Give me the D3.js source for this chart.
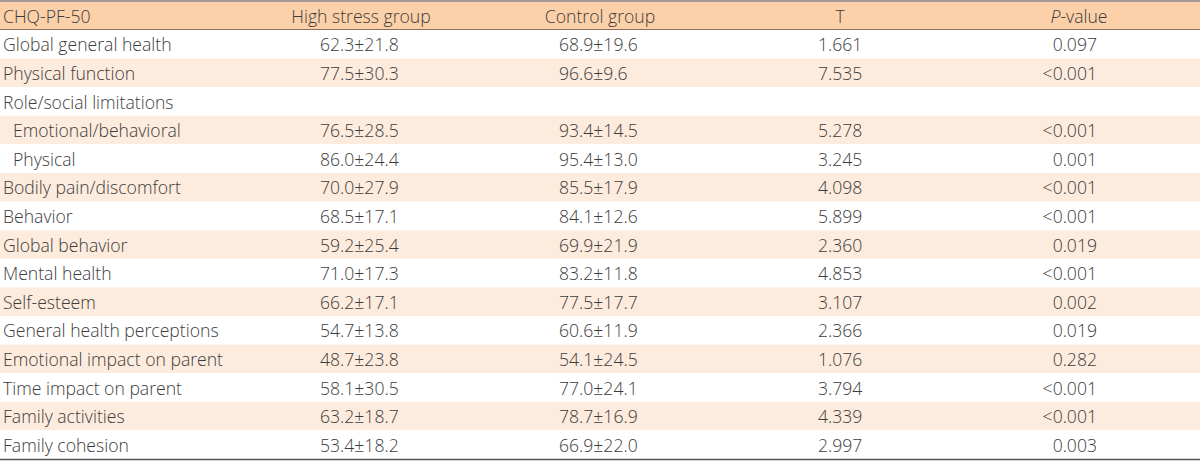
<!DOCTYPE html>
<html><head><meta charset="utf-8">
<script src="https://cdn.jsdelivr.net/npm/d3@7"></script>
<style>html,body{margin:0;padding:0;background:#fff;}svg{display:block;}</style>
</head><body>
<svg id="chart" width="1200" height="462"></svg>
<script>
const headers = ["CHQ-PF-50", "High stress group", "Control group", "T", "P-value"];
const measures = ["Global general health","Physical function","Role/social limitations","Emotional/behavioral","Physical","Bodily pain/discomfort","Behavior","Global behavior","Mental health","Self-esteem","General health perceptions","Emotional impact on parent","Time impact on parent","Family activities","Family cohesion"];
const indented = [false,false,false,true,true,false,false,false,false,false,false,false,false,false,false];
const highStress = ["62.3±21.8","77.5±30.3","","76.5±28.5","86.0±24.4","70.0±27.9","68.5±17.1","59.2±25.4","71.0±17.3","66.2±17.1","54.7±13.8","48.7±23.8","58.1±30.5","63.2±18.7","53.4±18.2"];
const control = ["68.9±19.6","96.6±9.6","","93.4±14.5","95.4±13.0","85.5±17.9","84.1±12.6","69.9±21.9","83.2±11.8","77.5±17.7","60.6±11.9","54.1±24.5","77.0±24.1","78.7±16.9","66.9±22.0"];
const tValues = ["1.661","7.535","","5.278","3.245","4.098","5.899","2.360","4.853","3.107","2.366","1.076","3.794","4.339","2.997"];
const pValues = ["0.097","<0.001","","<0.001","0.001","<0.001","<0.001","0.019","<0.001","0.002","0.019","0.282","<0.001","<0.001","0.003"];

const W = 1200;
const svg = d3.select("#chart");
const font = "'Open Sans', sans-serif";
const fs = 17.6;
const txt = "#3c3c3c";

const headerTop = 2, headerBottom = 30, tableBottom = 459;
const y = d3.scaleBand().domain(d3.range(measures.length)).range([headerBottom, tableBottom]).padding(0);

// header band
svg.append("rect").attr("x",0).attr("y",headerTop).attr("width",W).attr("height",headerBottom-headerTop).attr("fill","#fcd0a9");
svg.append("line").attr("x1",0).attr("x2",W).attr("y1",1).attr("y2",1).attr("stroke","#a39a94").attr("stroke-width",2);
svg.append("line").attr("x1",0).attr("x2",W).attr("y1",headerBottom-0.5).attr("y2",headerBottom-0.5).attr("stroke","#8c6e5a").attr("stroke-width",1);

// striped rows
svg.selectAll("rect.row").data(measures).join("rect").attr("class","row")
  .attr("x",0).attr("width",W)
  .attr("y",(d,i)=>y(i)).attr("height",y.bandwidth())
  .attr("fill",(d,i)=> i%2===1 ? "#fdebdd" : "#ffffff");

svg.append("line").attr("x1",0).attr("x2",W).attr("y1",tableBottom+0.5).attr("y2",tableBottom+0.5).attr("stroke","#555").attr("stroke-width",1.5);

// header text
const hy = (headerTop+headerBottom)/2;
const hdr = svg.append("g").attr("font-family",font).attr("font-weight",300).attr("font-size",fs).attr("fill",txt).attr("dominant-baseline","central");
hdr.append("text").attr("x",3).attr("y",hy).text(headers[0]);
hdr.append("text").attr("x",361).attr("y",hy).attr("text-anchor","middle").text(headers[1]);
hdr.append("text").attr("x",600).attr("y",hy).attr("text-anchor","middle").text(headers[2]);
hdr.append("text").attr("x",840).attr("y",hy).attr("text-anchor","middle").text(headers[3]);
const pt = hdr.append("text").attr("x",1079).attr("y",hy).attr("text-anchor","middle");
pt.append("tspan").attr("font-style","italic").text("P");
pt.append("tspan").text("-value");

// body
const body = svg.append("g").attr("font-family",font).attr("font-weight",300).attr("font-size",fs).attr("fill",txt).attr("dominant-baseline","central");
const cy = i => y(i) + y.bandwidth()/2;
body.selectAll("text.m").data(measures).join("text").attr("class","m")
  .attr("x",(d,i)=> indented[i] ? 13 : 3).attr("y",(d,i)=>cy(i)).text(d=>d);
body.selectAll("text.h").data(highStress).join("text").attr("class","h")
  .attr("x",320).attr("y",(d,i)=>cy(i)).text(d=>d);
body.selectAll("text.c").data(control).join("text").attr("class","c")
  .attr("x",559).attr("y",(d,i)=>cy(i)).text(d=>d);
body.selectAll("text.t").data(tValues).join("text").attr("class","t")
  .attr("x",818).attr("y",(d,i)=>cy(i)).text(d=>d);
body.selectAll("text.p").data(pValues).join("text").attr("class","p")
  .attr("x",1097).attr("y",(d,i)=>cy(i)).attr("text-anchor","end").text(d=>d);
</script>
</body></html>
